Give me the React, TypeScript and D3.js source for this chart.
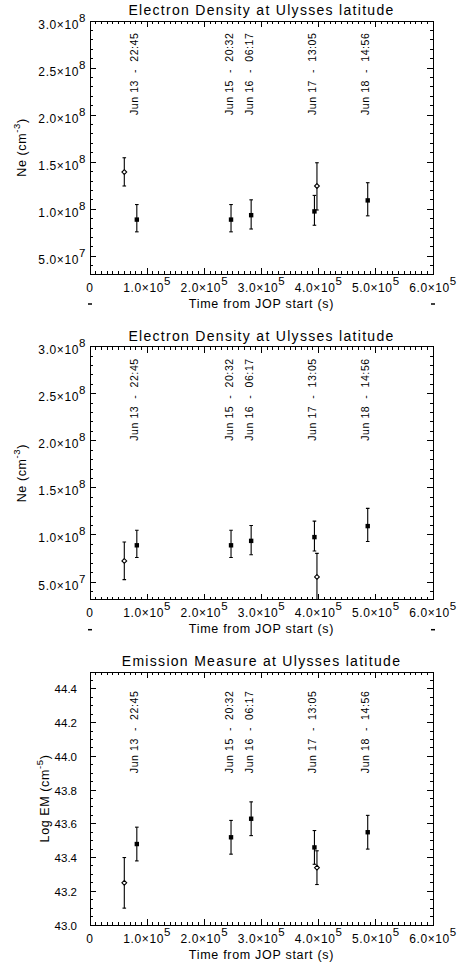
import React from 'react';
import * as d3 from 'd3';

// times from JOP start (s)
const squareTime = [81900, 246700, 281900, 392600, 485800];
const diamondTime = [60000, 397000];
const dateLabels = ['Jun 13  -  22:45', 'Jun 15  -  20:32', 'Jun 16  -  06:17', 'Jun 17  -  13:05', 'Jun 18  -  14:56'];

// electron density (cm^-3), squares are the same in both Ne panels
const neSquare = [0.89e8, 0.89e8, 0.937e8, 0.977e8, 1.094e8];
const neSquareLow = [0.76e8, 0.76e8, 0.79e8, 0.83e8, 0.93e8];
const neSquareHigh = [1.05e8, 1.05e8, 1.1e8, 1.147e8, 1.282e8];

const neDiamond1 = [1.395e8, 1.247e8];
const neDiamond1Low = [1.247e8, 0.992e8];
const neDiamond1High = [1.547e8, 1.494e8];

const neDiamond2 = [0.724e8, 0.554e8];
const neDiamond2Low = [0.525e8, 0.28e8];
const neDiamond2High = [0.925e8, 0.804e8];

// log emission measure (cm^-5)
const emSquare = [43.48, 43.52, 43.63, 43.46, 43.55];
const emSquareLow = [43.38, 43.42, 43.53, 43.36, 43.45];
const emSquareHigh = [43.58, 43.62, 43.73, 43.56, 43.65];
const emDiamond = [43.25, 43.34];
const emDiamondLow = [43.1, 43.24];
const emDiamondHigh = [43.4, 43.44];

const xTickValues = [0, 1e5, 2e5, 3e5, 4e5, 5e5, 6e5];
const neTickValues = [5e7, 1e8, 1.5e8, 2e8, 2.5e8, 3e8];
const emTickValues = [43.0, 43.2, 43.4, 43.6, 43.8, 44.0, 44.2, 44.4];

const W = 457, H = 964;
const left = 90, right = 433, panelH = 253;
const font = '"Liberation Sans", Arial, Helvetica, sans-serif';

type Series = { t: number[]; v: number[]; lo: number[]; hi: number[]; kind: 'square' | 'diamond' };

function expParts(v: number) {
  if (v === 0) return null;
  const e = Math.floor(Math.log10(v) + 1e-9);
  const m = v / Math.pow(10, e);
  return { m: m.toFixed(1), e: String(e) };
}

function Panel(props: {
  id: string; top: number; title: string; yDomain: [number, number]; yTicks: number[]; yMinor: number[];
  expY: boolean; yLabel: string; yLabelSup: string; yLabelX: number; yTickEnd: number;
  series: Series[]; labelFrom: number; dashes: boolean;
}) {
  const { id, top, title, yDomain, yTicks, yMinor, expY, yLabel, yLabelSup, yLabelX, yTickEnd, series, labelFrom, dashes } = props;
  const bottom = top + panelH;
  const x = d3.scaleLinear().domain([0, 6e5]).range([left, right]);
  const y = d3.scaleLinear().domain(yDomain).range([bottom, top]);
  const xMinor = d3.range(0, 6e5 + 1, 1e4);

  return (
    <g>
      <defs>
        <clipPath id={id}>
          <rect x={left} y={top} width={right - left} height={panelH} />
        </clipPath>
      </defs>
      <text x={(left + right) / 2} y={top - 6} textAnchor="middle" fontSize={14} letterSpacing={1.3} fontFamily={font}>{title}</text>
      <rect x={left} y={top} width={right - left} height={panelH} fill="none" stroke="#000" strokeWidth={1} shapeRendering="crispEdges" />
      <g stroke="#000" strokeWidth={1} shapeRendering="crispEdges">
        {xMinor.map((t) => {
          const major = t % 1e5 === 0;
          const len = major ? 6 : 3;
          return (
            <g key={'x' + t}>
              <line x1={x(t)} x2={x(t)} y1={bottom} y2={bottom - len} />
              <line x1={x(t)} x2={x(t)} y1={top} y2={top + len} />
            </g>
          );
        })}
        {yMinor.map((v, i) => (
          <g key={'ym' + i}>
            <line x1={left} x2={left + 3} y1={y(v)} y2={y(v)} />
            <line x1={right} x2={right - 3} y1={y(v)} y2={y(v)} />
          </g>
        ))}
        {yTicks.map((v, i) => (
          <g key={'yt' + i}>
            <line x1={left} x2={left + 6} y1={y(v)} y2={y(v)} />
            <line x1={right} x2={right - 6} y1={y(v)} y2={y(v)} />
          </g>
        ))}
      </g>
      <g fontFamily={font} fontSize={12} letterSpacing={0.6}>
        {xTickValues.map((t) => {
          const p = expParts(t);
          return (
            <text key={'xl' + t} x={x(t)} y={bottom + 17.5} textAnchor="middle">
              {p ? (<>{p.m + '\u00d710'}<tspan dy={-7} fontSize={11.5}>{p.e}</tspan></>) : '0'}
            </text>
          );
        })}
        {yTicks.map((v, i) => {
          if (expY) {
            const p = expParts(v)!;
            return (
              <text key={'yl' + i} x={yTickEnd} y={y(v) + 7.5} textAnchor="end">
                {p.m + '\u00d710'}<tspan dy={-7} fontSize={11.5}>{p.e}</tspan>
              </text>
            );
          }
          return (
            <text key={'yl' + i} x={yTickEnd} y={y(v) + 4.5} textAnchor="end" fontSize={11.5} letterSpacing={0}>{v.toFixed(1)}</text>
          );
        })}
      </g>
      <text x={(left + right) / 2} y={bottom + 33.5} textAnchor="middle" fontSize={12.5} letterSpacing={0.7} fontFamily={font}>Time from JOP start (s)</text>
      {dashes && [0, 6e5].map((t) => (
        <line key={'d' + t} x1={x(t) - 2} x2={x(t) + 2} y1={bottom + 30} y2={bottom + 30} stroke="#000" strokeWidth={1.5} />
      ))}
      <text transform={`translate(${yLabelX + 4.5},${(top + bottom) / 2}) rotate(-90)`} textAnchor="middle" fontSize={12.5} letterSpacing={0.6} fontFamily={font}>
        {yLabel}<tspan dy={-6} fontSize={9.5}>{yLabelSup}</tspan><tspan dy={6}>)</tspan>
      </text>
      {squareTime.map((t, i) => (
        <text key={'dl' + i} transform={`translate(${x(t) + 1.5},${y(labelFrom)}) rotate(-90)`} fontSize={10.5} textLength={82} lengthAdjust="spacing" fontFamily={font} style={{ whiteSpace: 'pre' }}>{dateLabels[i]}</text>
      ))}
      <g clipPath={`url(#${id})`} stroke="#000" strokeWidth={1.1}>
        {series.map((s, si) => s.t.map((t, i) => {
          const cx = x(t), cy = y(s.v[i]);
          return (
            <g key={si + '-' + i}>
              <line x1={cx} x2={cx} y1={y(s.lo[i])} y2={y(s.hi[i])} />
              <line x1={cx - 1.8} x2={cx + 1.8} y1={y(s.lo[i])} y2={y(s.lo[i])} />
              <line x1={cx - 1.8} x2={cx + 1.8} y1={y(s.hi[i])} y2={y(s.hi[i])} />
              {s.kind === 'square'
                ? <rect x={cx - 2.2} y={cy - 2.2} width={4.4} height={4.4} fill="#000" stroke="none" />
                : <path d={`M${cx},${cy - 2.4}L${cx + 2.4},${cy}L${cx},${cy + 2.4}L${cx - 2.4},${cy}Z`} fill="#fff" />}
            </g>
          );
        }))}
      </g>
    </g>
  );
}

export default function App() {
  const neMinor = d3.range(4e7, 3e8 + 1, 1e7);
  const emMinor = d3.range(0, 31).map((i) => 43.0 + i * 0.05);
  return (
    <svg width={W} height={H} style={{ position: 'absolute', left: 0, top: 0, background: '#fff' }}>
      <Panel id="c1" top={21} title="Electron Density at Ulysses latitude" yDomain={[3.12e7, 3.0e8]} yTicks={neTickValues} yMinor={neMinor}
        expY yLabel="Ne (cm" yLabelSup="-3" yLabelX={21.7} yTickEnd={86} labelFrom={2e8} dashes
        series={[
          { t: squareTime, v: neSquare, lo: neSquareLow, hi: neSquareHigh, kind: 'square' },
          { t: diamondTime, v: neDiamond1, lo: neDiamond1Low, hi: neDiamond1High, kind: 'diamond' },
        ]} />
      <Panel id="c2" top={346.7} title="Electron Density at Ulysses latitude" yDomain={[3.12e7, 3.0e8]} yTicks={neTickValues} yMinor={neMinor}
        expY yLabel="Ne (cm" yLabelSup="-3" yLabelX={21.7} yTickEnd={86} labelFrom={2e8} dashes
        series={[
          { t: squareTime, v: neSquare, lo: neSquareLow, hi: neSquareHigh, kind: 'square' },
          { t: diamondTime, v: neDiamond2, lo: neDiamond2Low, hi: neDiamond2High, kind: 'diamond' },
        ]} />
      <Panel id="c3" top={672} title="Emission Measure at Ulysses latitude" yDomain={[43.0, 44.5]} yTicks={emTickValues} yMinor={emMinor}
        expY={false} yLabel="Log EM (cm" yLabelSup="-5" yLabelX={44} yTickEnd={77} labelFrom={43.9} dashes={false}
        series={[
          { t: squareTime, v: emSquare, lo: emSquareLow, hi: emSquareHigh, kind: 'square' },
          { t: diamondTime, v: emDiamond, lo: emDiamondLow, hi: emDiamondHigh, kind: 'diamond' },
        ]} />
    </svg>
  );
}
